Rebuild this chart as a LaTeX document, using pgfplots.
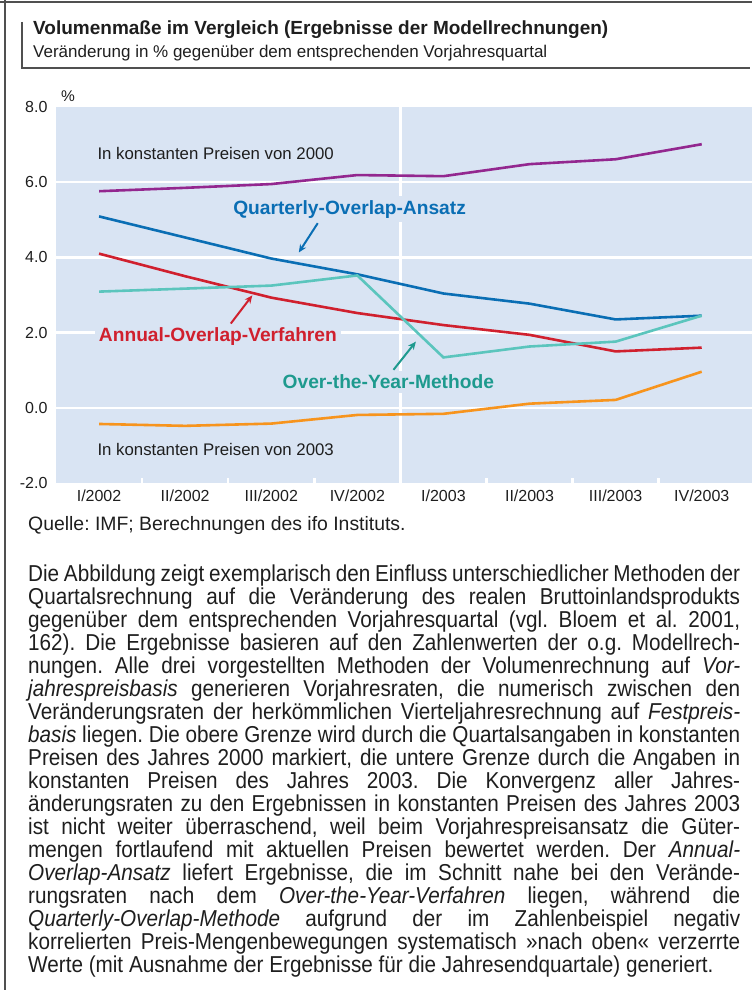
\documentclass[border=0pt]{standalone}
\usepackage{fontspec}
\setmainfont{Liberation Sans}
\newfontfamily\condfont[FakeStretch=0.90]{Liberation Sans}
\usepackage{pgfplots}
\pgfplotsset{compat=1.18}
\usetikzlibrary{arrows.meta}
\definecolor{bgblue}{RGB}{217,228,243}
\definecolor{cpurple}{RGB}{147,39,143}
\definecolor{cblue}{RGB}{10,110,180}
\definecolor{cred}{RGB}{208,32,46}
\definecolor{ccyan}{RGB}{91,197,189}
\definecolor{cteal}{RGB}{30,154,142}
\definecolor{corange}{RGB}{247,148,29}
\definecolor{txt}{RGB}{30,30,30}
\definecolor{frame}{RGB}{80,80,80}
\frenchspacing
\begin{document}
\begin{tikzpicture}[x=1pt,y=1pt]
\useasboundingbox (0,0) rectangle (752,-990);
\draw[frame,line width=1.5pt] (5,0) -- (5,-990);
\draw[frame,line width=1.5pt] (0,-2) -- (752,-2);
\draw[frame,line width=1.2pt] (22,-22) -- (22,-68) -- (750,-68);
\node[anchor=west,inner sep=0,font=\fontsize{19}{21}\selectfont\bfseries,text=txt] at (33,-30) {Volumenmaße im Vergleich (Ergebnisse der Modellrechnungen)};
\node[anchor=west,inner sep=0,font=\fontsize{17}{19}\selectfont,text=txt] at (33,-53) {Veränderung in \% gegenüber dem entsprechenden Vorjahresquartal};
\node[anchor=west,inner sep=0,font=\fontsize{15.5}{16}\selectfont,text=txt] at (61,-96) {\%};
\begin{axis}[
  at={(56pt,-483pt)}, anchor=south west,
  scale only axis, width=696pt, height=376pt,
  xmin=-0.5, xmax=7.584, ymin=-2, ymax=8,
  axis background/.style={fill=bgblue},
  axis line style={draw=none},
  major tick length=0pt,
  minor tick length=5pt,
  tick align=inside,
  xtick pos=bottom, ytick pos=left,
  xtick={0,...,7},
  xticklabels={I/2002,II/2002,III/2002,IV/2002,I/2003,II/2003,III/2003,IV/2003},
  minor xtick={0.5,1.5,2.5,4.5,5.5,6.5},
  every minor tick/.style={white,line width=2.5pt},
  ytick={-2,0,2,4,6,8},
  yticklabels={-2.0,0.0,2.0,4.0,6.0,8.0},
  extra y ticks={0,2,4,6},
  extra y tick labels={},
  extra y tick style={ymajorgrids=true, major grid style={white,line width=2.5pt}},
  extra x ticks={3.5},
  extra x tick labels={},
  extra x tick style={xmajorgrids=true, major grid style={white,line width=2.5pt}},
  /pgf/number format/assume math mode=true,
  ticklabel style={font=\fontsize{16}{16}\selectfont, text=txt},
  yticklabel style={xshift=-5pt},
  xticklabel style={yshift=-3pt},
  clip=false,
]
\addplot[cpurple,line width=2.6pt] coordinates {(0,5.76)(1,5.85)(2,5.95)(3,6.19)(4,6.16)(5,6.48)(6,6.61)(7,7.01)};
\addplot[cblue,line width=2.6pt] coordinates {(0,5.09)(1,4.53)(2,3.97)(3,3.55)(4,3.04)(5,2.77)(6,2.35)(7,2.45)};
\addplot[cred,line width=2.6pt] coordinates {(0,4.10)(1,3.50)(2,2.93)(3,2.52)(4,2.20)(5,1.94)(6,1.50)(7,1.60)};
\addplot[ccyan,line width=2.6pt] coordinates {(0,3.09)(1,3.17)(2,3.25)(3,3.52)(4,1.34)(5,1.63)(6,1.76)(7,2.45)};
\addplot[corange,line width=2.6pt] coordinates {(0,-0.43)(1,-0.48)(2,-0.42)(3,-0.19)(4,-0.16)(5,0.11)(6,0.21)(7,0.96)};
\node[anchor=west,inner sep=0,font=\fontsize{16.8}{17}\selectfont,text=txt] at (axis cs:-0.02,6.77) {In konstanten Preisen von 2000};
\node[anchor=west,inner sep=0,font=\fontsize{16.8}{17}\selectfont,text=txt] at (axis cs:-0.02,-1.12) {In konstanten Preisen von 2003};
\node[fill=bgblue,inner sep=4pt,font=\fontsize{19.2}{20}\selectfont\bfseries,text=cblue] at (axis cs:2.91,5.28) {Quarterly-Overlap-Ansatz};
\node[fill=bgblue,inner sep=4pt,anchor=west,font=\fontsize{19.2}{20}\selectfont\bfseries,text=cred] at (axis cs:-0.05,1.89) {Annual-Overlap-Verfahren};
\node[fill=bgblue,inner sep=4pt,font=\fontsize{19.2}{20}\selectfont\bfseries,text=cteal] at (axis cs:3.36,0.69) {Over-the-Year-Methode};
\draw[cblue,line width=2pt,-{Stealth[length=8pt,width=7pt]}] (axis cs:2.54,4.91) -- (axis cs:2.32,4.13);
\draw[cred,line width=2pt,-{Stealth[length=8pt,width=7pt]}] (axis cs:1.53,2.24) -- (axis cs:1.78,2.99);
\draw[cteal,line width=2pt,-{Stealth[length=8pt,width=7pt]}] (axis cs:3.42,1.01) -- (axis cs:3.68,1.76);
\end{axis}
\node[anchor=west,inner sep=0,font=\fontsize{19.4}{21}\selectfont,text=txt] at (28,-525) {Quelle: IMF; Berechnungen des ifo Instituts.};
\node[anchor=north west,inner sep=0,text width=712pt,align=justify,text=txt,font=\condfont\fontsize{23}{23}\selectfont] at (28,-565) {%
Die Abbildung zeigt exemplarisch den Einfluss unterschiedlicher Methoden der\linebreak
Quartalsrechnung auf die Veränderung des realen Bruttoinlandsprodukts\linebreak
gegenüber dem entsprechenden Vorjahresquartal (vgl. Bloem et al. 2001,\linebreak
162). Die Ergebnisse basieren auf den Zahlenwerten der o.g.\ Modellrech-\linebreak
nungen. Alle drei vorgestellten Methoden der Volumenrechnung auf \textit{Vor-}\linebreak
\textit{jahrespreisbasis} generieren Vorjahresraten, die numerisch zwischen den\linebreak
Veränderungsraten der herkömmlichen Vierteljahresrechnung auf \textit{Festpreis-}\linebreak
\textit{basis} liegen. Die obere Grenze wird durch die Quartalsangaben in konstanten\linebreak
Preisen des Jahres 2000 markiert, die untere Grenze durch die Angaben in\linebreak
konstanten Preisen des Jahres 2003. Die Konvergenz aller Jahres-\linebreak
änderungsraten zu den Ergebnissen in konstanten Preisen des Jahres 2003\linebreak
ist nicht weiter überraschend, weil beim Vorjahrespreisansatz die Güter-\linebreak
mengen fortlaufend mit aktuellen Preisen bewertet werden. Der \textit{Annual-}\linebreak
\textit{Overlap-Ansatz} liefert Ergebnisse, die im Schnitt nahe bei den Verände-\linebreak
rungsraten nach dem \textit{Over-the-Year-Verfahren} liegen, während die\linebreak
\textit{Quarterly-Overlap-Methode} aufgrund der im Zahlenbeispiel negativ\linebreak
korrelierten Preis-Mengenbewegungen systematisch »nach oben« verzerrte\linebreak
Werte (mit Ausnahme der Ergebnisse für die Jahresendquartale) generiert.};
\end{tikzpicture}
\end{document}
